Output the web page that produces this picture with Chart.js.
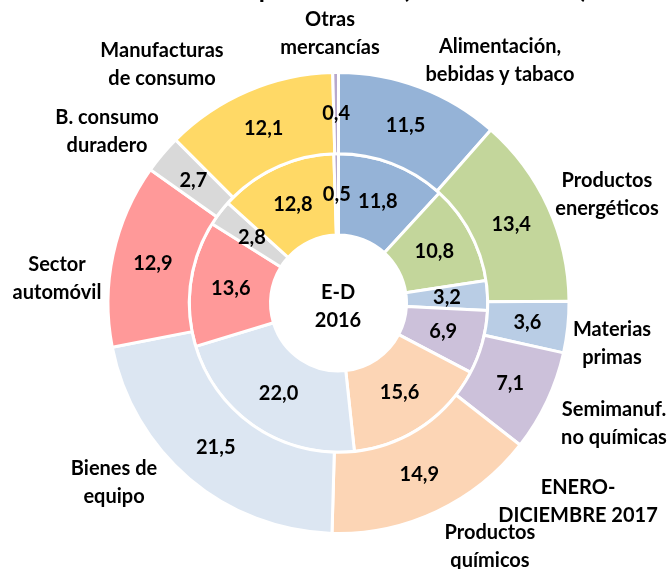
<!DOCTYPE html>
<html>
<head>
<meta charset="utf-8">
<script src="https://cdn.jsdelivr.net/npm/chart.js@4/dist/chart.umd.min.js"></script>
<style>
    html, body { margin: 0; padding: 0; background: #fff; }
    #wrap { width: 668px; height: 569px; }
</style>
</head>
<body>
<div id="wrap"><canvas id="chartSectores" width="668" height="569"></canvas></div>
<script>
// sectores, en el orden de las agujas del reloj desde arriba
const categories = [
    'Alimentación, bebidas y tabaco',
    'Productos energéticos',
    'Materias primas',
    'Semimanuf. no químicas',
    'Productos químicos',
    'Bienes de equipo',
    'Sector automóvil',
    'B. consumo duradero',
    'Manufacturas de consumo',
    'Otras mercancías',
];
const values2017 = [11.5, 13.4, 3.6, 7.1, 14.9, 21.5, 12.9, 2.7, 12.1, 0.4];
const values2016 = [11.8, 10.8, 3.2, 6.9, 15.6, 22.0, 13.6, 2.8, 12.8, 0.5];
const sliceColors = [
    '#95b3d7', '#c3d69b', '#b9cde5', '#ccc1da', '#fcd5b5',
    '#dce6f2', '#ff9999', '#d9d9d9', '#ffd966', '#b7a8cc',
];

const FONT = 'Lato, "Open Sans", sans-serif';

// etiquetas de categoría alrededor del gráfico
const outerLabels = [
    { lines: ['Otras', 'mercancías'], x: 330, y: 20 },
    { lines: ['Manufacturas', 'de consumo'], x: 162, y: 51 },
    { lines: ['Alimentación,', 'bebidas y tabaco'], x: 500, y: 47 },
    { lines: ['B. consumo', 'duradero'], x: 107, y: 118 },
    { lines: ['Productos', 'energéticos'], x: 607, y: 181 },
    { lines: ['Sector', 'automóvil'], x: 57, y: 265 },
    { lines: ['Materias', 'primas'], x: 612, y: 330 },
    { lines: ['Semimanuf.', 'no químicas'], x: 614, y: 410 },
    { lines: ['Bienes de', 'equipo'], x: 114, y: 469 },
    { lines: ['ENERO-', 'DICIEMBRE 2017'], x: 578, y: 488 },
    { lines: ['Productos', 'químicos'], x: 490, y: 533 },
    { lines: ['E-D', '2016'], x: 338, y: 293 },
];

const fmt = (v) => v.toFixed(1).replace('.', ',');

const labelsPlugin = {
    id: 'labelsPlugin',
    afterDatasetsDraw(chart) {
        const ctx = chart.ctx;
        ctx.save();
        ctx.fillStyle = '#000';
        ctx.textAlign = 'center';
        ctx.textBaseline = 'middle';
        ctx.font = 'bold 20px ' + FONT;

        // valores dentro de cada sector
        chart.data.datasets.forEach((ds, i) => {
            const meta = chart.getDatasetMeta(i);
            meta.data.forEach((arc, j) => {
                const p = arc.getCenterPoint();
                ctx.fillText(fmt(ds.data[j]), p.x, p.y);
            });
        });

        outerLabels.forEach((lbl) => {
            lbl.lines.forEach((line, k) => {
                ctx.fillText(line, lbl.x, lbl.y + k * 27.5);
            });
        });

        // título recortado en el borde superior
        ctx.font = 'bold 25px ' + FONT;
        ctx.textBaseline = 'alphabetic';
        ctx.fillText('Distribución por sectores (% sobre el total)', 352, -2);
        ctx.restore();
    },
};

new Chart(document.getElementById('chartSectores'), {
    type: 'doughnut',
    data: {
        labels: categories,
        datasets: [
            {
                label: '2017',
                data: values2017,
                backgroundColor: sliceColors,
                borderColor: '#fff',
                borderWidth: 3,
            },
            {
                label: '2016',
                data: values2016,
                backgroundColor: sliceColors,
                borderColor: '#fff',
                borderWidth: 3,
            },
        ],
    },
    options: {
        responsive: false,
        animation: false,
        cutout: '29.5%',
        layout: { padding: { left: 106, right: 97, top: 71, bottom: 34 } },
        events: [],
        plugins: {
            legend: { display: false },
            tooltip: { enabled: false },
            title: { display: false },
        },
    },
    plugins: [labelsPlugin],
});
</script>
</body>
</html>
